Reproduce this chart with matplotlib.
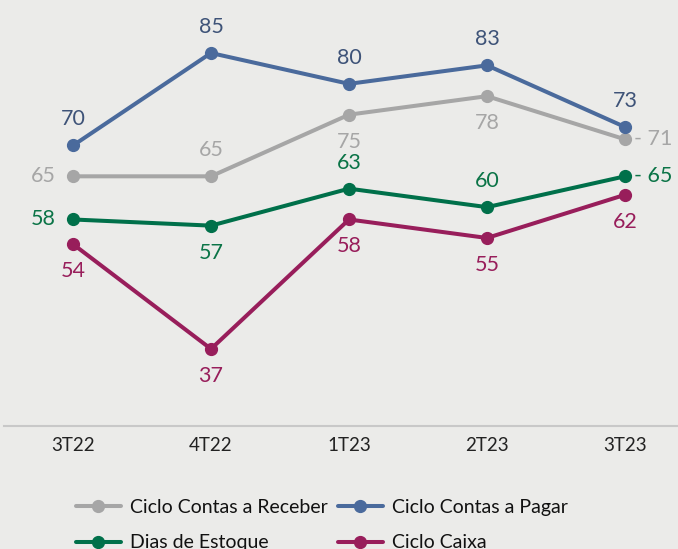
import numpy as np
import matplotlib.pyplot as plt

# Quarterly cycle indicators (days)
quarters = ['3T22', '4T22', '1T23', '2T23', '3T23']
contas_receber = [65, 65, 75, 78, 71]
contas_pagar = [70, 85, 80, 83, 73]
dias_estoque = [58, 57, 63, 60, 65]
ciclo_caixa = [54, 37, 58, 55, 62]

plt.rcParams['font.family'] = ['Lato', 'DejaVu Sans']
bg = '#EBEBE9'

fig = plt.figure(figsize=(6.78, 5.49), dpi=100, facecolor=bg)
# plot area runs a bit past the right edge, like the original
ax = fig.add_axes([4/678, (549-426)/549, 690/678, 426/549])
ax.set_facecolor(bg)

x = np.arange(len(quarters))

series = [
    ('Ciclo Contas a Receber', contas_receber, '#A6A6A6', '#A6A6A6',
     ['left', 'above', 'below', 'below', 'right']),
    ('Ciclo Contas a Pagar', contas_pagar, '#4A6A9C', '#3E5378',
     ['above'] * 5),
    ('Dias de Estoque', dias_estoque, '#00704A', '#0B7447',
     ['left', 'below', 'above', 'above', 'right']),
    ('Ciclo Caixa', ciclo_caixa, '#981E5B', '#981E5B',
     ['below'] * 5),
]

offsets = {'above': (0, 26), 'below': (0, -27), 'left': (-30, 0), 'right': (9, 0)}

lines = []
for name, vals, color, lcolor, pos in series:
    ln, = ax.plot(x, vals, color=color, lw=2.9, marker='o', ms=8.5, label=name,
                  solid_capstyle='round')
    lines.append(ln)
    for xi, v, p in zip(x, vals, pos):
        dx, dy = offsets[p]
        txt = str(v)
        ha = 'center'
        if p == 'right':
            txt = '- ' + txt
            ha = 'left'
        ax.annotate(txt, (xi, v), xytext=(dx * 0.72, dy * 0.72),
                    textcoords='offset points', ha=ha, va='center',
                    fontsize=15.5, color=lcolor)

ax.set_xlim(-0.5, 4.5)
ax.set_ylim(24.5, 93.6)
ax.set_xticks(x)
ax.set_xticklabels(quarters, fontsize=13.5, color='#222222')
ax.tick_params(axis='x', length=0, pad=8)
ax.set_yticks([])
for s in ['top', 'left', 'right']:
    ax.spines[s].set_visible(False)
ax.spines['bottom'].set_color('#C8C8C8')
ax.spines['bottom'].set_linewidth(1.5)

# legend reads row by row: receber, pagar / estoque, caixa
order = [0, 2, 1, 3]
fig.legend([lines[i] for i in order], [lines[i].get_label() for i in order],
           loc='upper left', bbox_to_anchor=(76/678, (549-499)/549), ncol=2,
           frameon=False, fontsize=14, handlelength=2.3, handletextpad=0.5,
           columnspacing=0.5, labelspacing=0.95, borderpad=0, borderaxespad=0,
           labelcolor='#111111')

fig.savefig('out.png', dpi=100, facecolor=bg)
